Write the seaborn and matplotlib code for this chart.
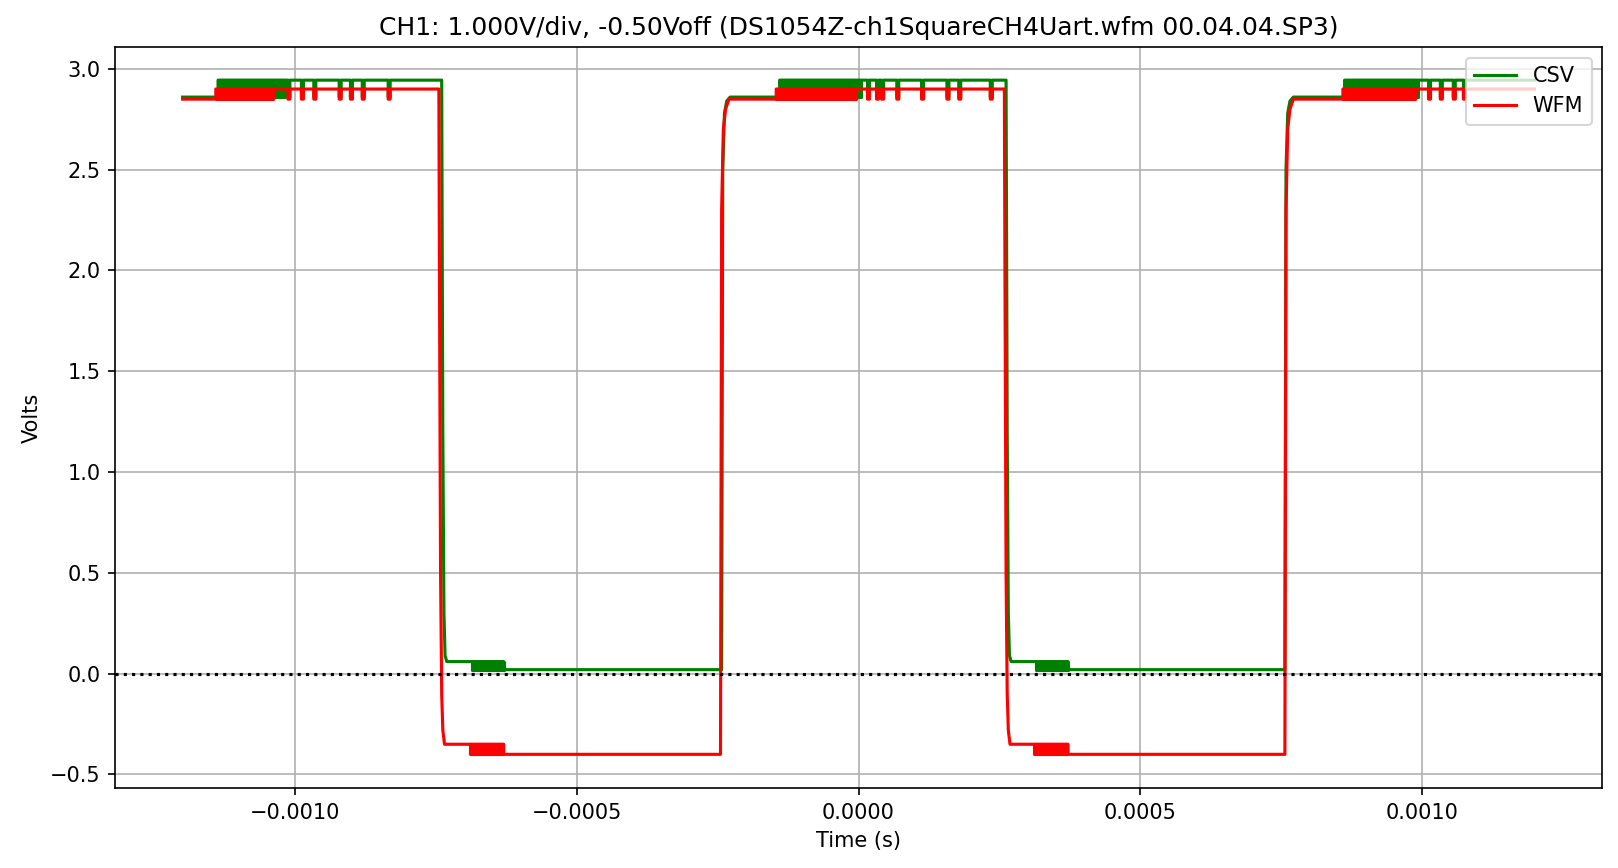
import pandas as pd
import numpy as np
import matplotlib.pyplot as plt
import seaborn as sns

# -----------------------------------
# Trace data
# -----------------------------------

title = "CH1: 1.000V/div, -0.50Voff (DS1054Z-ch1SquareCH4Uart.wfm 00.04.04.SP3)"

# CSV trace (green): main vertices
csv_t = [-0.00120, -0.001137, -0.001137, -0.000740, -0.000738, -0.000736, -0.000734, -0.000731,
         -0.000630, -0.000630, -0.000243, -0.000241, -0.000238, -0.000234, -0.000228,
         -0.000140, -0.000140, 0.000262, 0.000264, 0.000266, 0.000268, 0.000271,
         0.000372, 0.000372, 0.000757, 0.000759, 0.000762, 0.000766, 0.000772,
         0.000863, 0.000863, 0.00120]
csv_v = [2.86, 2.86, 2.944, 2.944, 1.2, 0.30, 0.09, 0.06,
         0.06, 0.02, 0.02, 2.50, 2.78, 2.84, 2.86,
         2.86, 2.944, 2.944, 1.2, 0.30, 0.09, 0.06,
         0.06, 0.02, 0.02, 2.50, 2.78, 2.84, 2.86,
         2.86, 2.944, 2.944]

# WFM trace (red): main vertices
wfm_t = [-0.00120, -0.001141, -0.001141, -0.000745, -0.000744, -0.000742, -0.000740, -0.000738,
         -0.000735, -0.000630, -0.000630, -0.000245, -0.000243, -0.000240, -0.000236,
         -0.000230, -0.000146, -0.000146, 0.000259, 0.000260, 0.000262, 0.000264,
         0.000266, 0.000269, 0.000372, 0.000372, 0.000757, 0.000759, 0.000762,
         0.000766, 0.000772, 0.000860, 0.000860, 0.00120]
wfm_v = [2.85, 2.85, 2.90, 2.90, 2.0, 0.5, -0.10, -0.28,
         -0.35, -0.35, -0.40, -0.40, 2.30, 2.70, 2.80,
         2.85, 2.85, 2.90, 2.90, 2.0, 0.5, -0.10,
         -0.28, -0.35, -0.35, -0.40, -0.40, 2.30, 2.70,
         2.80, 2.85, 2.85, 2.90, 2.90]

# dense UART bursts: (start, end, low level, high level)
csv_bursts = [(-0.001137, -0.001019, 2.86, 2.944),
              (-0.000687, -0.000630, 0.02, 0.06),
              (-0.000140, 0.000005, 2.86, 2.944),
              (0.000315, 0.000372, 0.02, 0.06),
              (0.000863, 0.000994, 2.86, 2.944)]
wfm_bursts = [(-0.001141, -0.001040, 2.85, 2.90),
              (-0.000690, -0.000632, -0.40, -0.35),
              (-0.000146, -0.000005, 2.85, 2.90),
              (0.000312, 0.000370, -0.40, -0.35),
              (0.000860, 0.000988, 2.85, 2.90)]

# single glitches on the high level
spike_times = [-0.001013, -0.000989, -0.000967, -0.000922, -0.000902, -0.000881, -0.000835,
               0.000016, 0.000032, 0.000041, 0.000068, 0.000112, 0.000157, 0.000178, 0.000234,
               0.001012, 0.001033, 0.001056, 0.001074]
csv_spike_low = 2.86
wfm_spike_low = 2.85
spike_w = 0.0000035


def add_spikes(ts, vs, spikes, low):
    out_t, out_v = [], []
    for i in range(len(ts)):
        out_t.append(ts[i])
        out_v.append(vs[i])
        if i + 1 < len(ts) and vs[i + 1] == vs[i] and vs[i] > 2.0:
            for s in spikes:
                if ts[i] < s < ts[i + 1]:
                    out_t += [s, s, s + spike_w, s + spike_w]
                    out_v += [vs[i], low, low, vs[i]]
    return pd.DataFrame({'Time': out_t, 'Volts': out_v})


csv_df = add_spikes(csv_t, csv_v, spike_times, csv_spike_low)
wfm_df = add_spikes(wfm_t, wfm_v, spike_times, wfm_spike_low)

# -----------------------------------
# Plot
# -----------------------------------

fig = plt.figure(figsize=(1618 / 150, 868 / 150), dpi=150)
ax = fig.add_axes([115 / 1618, 1 - 788 / 868, (1602 - 115) / 1618, (788 - 47.3) / 868])

sns.lineplot(data=csv_df, x='Time', y='Volts', sort=False, estimator=None,
             color='green', linewidth=1.5, label='CSV', ax=ax)
for t0, t1, lo, hi in csv_bursts:
    ax.fill_between([t0, t1], lo, hi, color='green', linewidth=1.5, zorder=2)

sns.lineplot(data=wfm_df, x='Time', y='Volts', sort=False, estimator=None,
             color='red', linewidth=1.5, label='WFM', ax=ax)
for t0, t1, lo, hi in wfm_bursts:
    ax.fill_between([t0, t1], lo, hi, color='red', linewidth=1.5, zorder=2)

ax.axhline(0, color='black', linestyle=':', linewidth=1.5)

ax.set_xlim(-0.00132, 0.00132)
ax.set_ylim(-0.567, 3.107)
ax.grid(True)
ax.set_title(title)
ax.set_xlabel("Time (s)")
ax.set_ylabel("Volts")
ax.legend(loc='upper right')

fig.savefig("out.png", dpi=150)
